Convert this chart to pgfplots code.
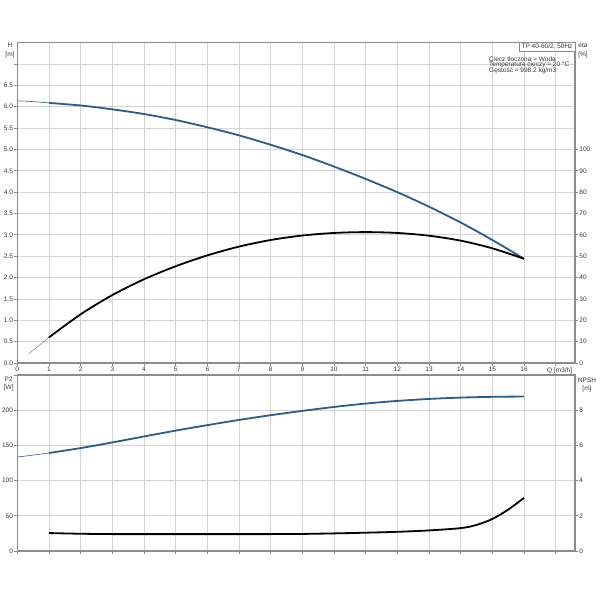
\documentclass[border=0pt]{standalone}
\usepackage{fontspec}
\setmainfont{Liberation Sans}
\usepackage{pgfplots}
\pgfplotsset{compat=1.18}
\definecolor{curveblue}{RGB}{42,92,142}
\definecolor{gridgray}{RGB}{212,212,212}
\definecolor{axgray}{RGB}{140,140,140}
\definecolor{txt}{RGB}{55,55,55}
\pgfplotsset{
  base/.style={
    scale only axis, width=557.7pt, xmin=0, xmax=17.61,
    /pgf/number format/assume math mode=true,
    tick label style={font=\fontsize{6.5}{7}\selectfont, text=txt, inner sep=1.2pt},
    axis line style={axgray, line width=1.1pt},
    tick style={axgray, line width=0.8pt},
    major tick length=3pt,
    tick align=outside,
    grid style={gridgray, line width=0.8pt},
  },
}
\begin{document}
\begin{tikzpicture}
\useasboundingbox (0,0) rectangle (600pt,600pt);
\fill[white] (0,0) rectangle (600pt,600pt);
% ---------- top: H and eta ----------
\begin{axis}[base, at={(17.3pt,237pt)}, anchor=south west, height=320.3pt,
  ymin=0, ymax=7.5,
  xtick={0,1,...,17},
  xticklabels={0,1,2,3,4,5,6,7,8,9,10,11,12,13,14,15,16,{\hspace*{8pt}Q [m3/h]}},
  ytick={0,0.5,1,1.5,2,2.5,3,3.5,4,4.5,5,5.5,6,6.5,7},
  yticklabels={0.0,0.5,1.0,1.5,2.0,2.5,3.0,3.5,4.0,4.5,5.0,5.5,6.0,6.5,{}},
  xtick pos=lower, ytick pos=left,
  grid=major]
\addplot[curveblue, line width=0.6pt, smooth] coordinates {(0,6.14)(0.5,6.12)(1,6.09)};
\addplot[curveblue, line width=1.8pt, smooth] coordinates {
(1,6.09)(2,6.03)(3,5.94)(4,5.83)(5,5.69)(6,5.52)(7,5.33)(8,5.11)(9,4.87)
(10,4.60)(11,4.31)(12,4.00)(13,3.66)(14,3.29)(15,2.88)(16,2.44)};
\end{axis}
\begin{axis}[base, at={(17.3pt,237pt)}, anchor=south west, height=320.3pt,
  ymin=0, ymax=150,
  axis y line*=right, axis x line=none,
  ytick={0,10,...,100}]
\addplot[gray, line width=0.5pt] coordinates {(0.35,4.2)(1,12)};
\addplot[black, line width=1.8pt, smooth] coordinates {
(1,12)(2,22.8)(3,31.8)(4,39.2)(5,45.3)(6,50.4)(7,54.5)(8,57.6)(9,59.7)
(10,60.9)(11,61.3)(12,60.9)(13,59.6)(14,57.3)(15,53.7)(16,48.8)};
\end{axis}
% ---------- bottom: P2 and NPSH ----------
\begin{axis}[base, at={(17.3pt,49pt)}, anchor=south west, height=176pt,
  ymin=0, ymax=250,
  xtick={0,1,...,17}, xticklabels={},
  ytick={0,50,100,150,200,250},
  yticklabels={0,50,100,150,200,{}},
  xtick pos=lower, ytick pos=left,
  grid=major]
\addplot[curveblue, line width=0.6pt, smooth] coordinates {(0,133.5)(0.5,136.2)(1,139.2)};
\addplot[curveblue, line width=1.8pt, smooth] coordinates {
(1,139.2)(2,146.2)(3,154.2)(4,162.7)(5,171.0)(6,178.8)(7,186.2)(8,192.9)(9,199.0)
(10,204.6)(11,209.4)(12,213.2)(13,216.0)(14,217.9)(15,219.0)(16,219.4)};
\end{axis}
\begin{axis}[base, at={(17.3pt,49pt)}, anchor=south west, height=176pt,
  ymin=0, ymax=10,
  axis y line*=right, axis x line=none,
  ytick={0,2,4,6,8}]
\addplot[black, line width=1.8pt, smooth] coordinates {
(1,1.02)(2,0.98)(3,0.96)(4,0.96)(5,0.96)(6,0.96)(7,0.96)(8,0.96)(9,0.97)
(10,1.0)(11,1.04)(12,1.09)(13,1.17)(14,1.30)(14.5,1.48)(15,1.82)(15.5,2.35)(16,3.02)};
\end{axis}
% ---------- labels ----------
\begin{scope}[every node/.style={font=\fontsize{6.5}{7}\selectfont, text=txt, inner sep=0pt}]
\node at (10pt,554.3pt) {H};
\node at (10pt,545pt) {[m]};
\node at (583pt,554.3pt) {eta};
\node at (583pt,545.3pt) {[\%]};
\node at (8.7pt,221pt) {P2};
\node at (8.7pt,212pt) {[W]};
\node at (587pt,220pt) {NPSH};
\node at (587pt,211pt) {[m]};
\filldraw[fill=white, draw=axgray, line width=0.6pt] (519pt,548.7pt) rectangle (575pt,557.3pt);
\node at (547pt,553pt) {TP 40-60/2, 50Hz};
\node[anchor=west] at (489pt,541.3pt) {Ciecz tłoczona = Woda};
\node[anchor=west] at (489pt,535.3pt) {Temperatura cieczy = 20 °C};
\node[anchor=west] at (489pt,529.3pt) {Gęstość = 998.2 kg/m3};
\end{scope}
\end{tikzpicture}
\end{document}
